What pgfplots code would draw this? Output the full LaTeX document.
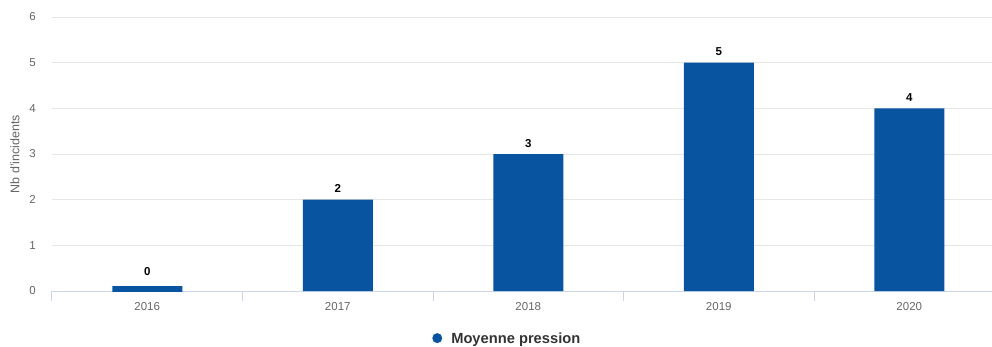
\documentclass[border=0pt]{standalone}
\usepackage{fontspec}
\setmainfont{Liberation Sans}
\usepackage{pgfplots}
\pgfplotsset{compat=1.18}
\definecolor{barblue}{RGB}{8,84,160}
\definecolor{gridgray}{RGB}{230,230,230}
\definecolor{axisblue}{RGB}{204,214,235}
\definecolor{labelgray}{RGB}{102,102,102}
\definecolor{legendtext}{RGB}{51,51,51}
\begin{document}
\begin{tikzpicture}
\useasboundingbox (0,0) rectangle (992pt,346pt);
\clip (0,0) rectangle (992pt,346pt);
\begin{axis}[
  at={(52pt,55pt)}, anchor=south west,
  scale only axis, width=952.5pt, height=274pt,
  xmin=-0.5, xmax=4.5, ymin=0, ymax=6,
  axis lines*=left,
  y axis line style={draw=none},
  x axis line style={draw=axisblue, line width=1pt},
  ytick={0,...,6}, xtick={0,...,4},
  xticklabels={2016,2017,2018,2019,2020},
  minor xtick={-0.5,0.5,...,4.5},
  major tick length=0pt, minor tick length=10pt,
  tick align=outside,
  minor tick style={draw=axisblue, line width=1pt},
  major tick style={draw=none},
  ymajorgrids, grid style={draw=gridgray, line width=1pt},
  tick label style={font=\fontsize{11.5}{13}\selectfont, text=labelgray},
  xticklabel style={anchor=base, yshift=-19pt},
  yticklabel style={anchor=east, inner sep=0pt, xshift=-16pt},
  ylabel={Nb d'incidents},
  ylabel style={at={(axis description cs:-0.03885,0.5)}, anchor=center,
    font=\fontsize{12.5}{14}\selectfont, text=labelgray},
  /pgf/number format/assume math mode=true,
  nodes near coords,
  every node near coord/.append style={font=\bfseries\fontsize{11.5}{13}\selectfont,
    text=black, anchor=south},
  legend style={at={(axis description cs:0.3990,-0.1745)}, anchor=west,
    draw=none, fill=none, inner sep=0pt,
    font=\bfseries\fontsize{14.7}{16}\selectfont, text=legendtext,
    /tikz/every odd column/.append style={column sep=7pt}},
  legend image code/.code={\fill[barblue] (5pt,0.7pt) circle (5pt);},
]
% counts per year
\addplot[ybar, bar width=70pt, bar shift=0pt, fill=barblue, draw=none,
  every node near coord/.append style={yshift=3.2pt}]
  coordinates {(1,2) (2,3) (3,5) (4,4)};
\addlegendentry{Moyenne pression}
% zero-count year, drawn as a thin minimum-height bar
\addplot[ybar, bar width=70pt, bar shift=0pt, fill=barblue, draw=barblue,
  line width=10pt, forget plot,
  every node near coord/.append style={yshift=6.7pt}]
  coordinates {(0,0)};
\end{axis}
\end{tikzpicture}
\end{document}
